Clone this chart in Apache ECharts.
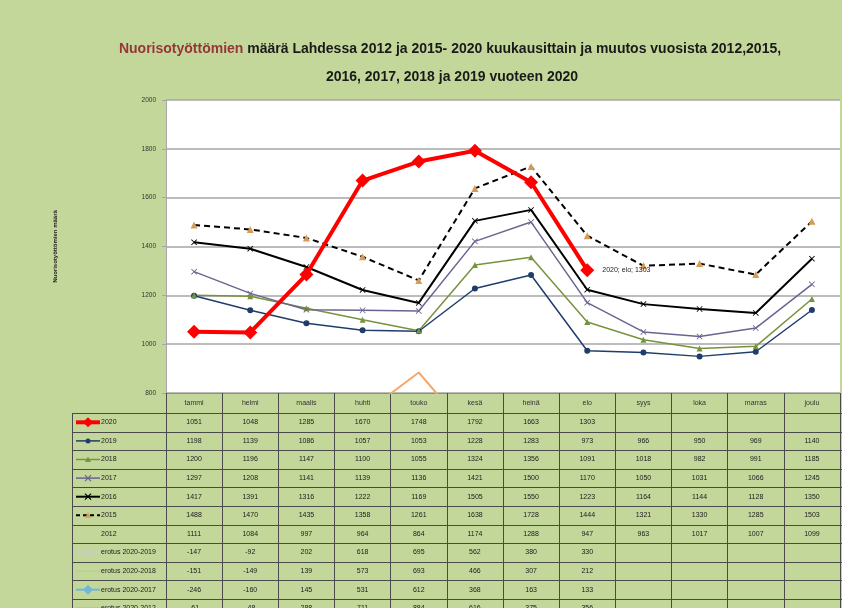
<!DOCTYPE html>
<html><head><meta charset="utf-8">
<script src="https://cdn.jsdelivr.net/npm/echarts@6/dist/echarts.min.js"></script>
<style>html,body{margin:0;padding:0;background:#c4d79b;} #c{width:842px;height:608px;}</style>
</head><body><div id="c"></div>
<script>
const months = ['tammi','helmi','maalis','huhti','touko','kesä','heinä','elo','syys','loka','marras','joulu'];
const v2020 = [1051,1048,1285,1670,1748,1792,1663,1303,null,null,null,null];
const v2019 = [1198,1139,1086,1057,1053,1228,1283,973,966,950,969,1140];
const v2018 = [1200,1196,1147,1100,1055,1324,1356,1091,1018,982,991,1185];
const v2017 = [1297,1208,1141,1139,1136,1421,1500,1170,1050,1031,1066,1245];
const v2016 = [1417,1391,1316,1222,1169,1505,1550,1223,1164,1144,1128,1350];
const v2015 = [1488,1470,1435,1358,1261,1638,1728,1444,1321,1330,1285,1503];
const v2012 = [1111,1084,997,964,864,1174,1288,947,963,1017,1007,1099];
const d2019 = [-147,-92,202,618,695,562,380,330,null,null,null,null];
const d2018 = [-151,-149,139,573,693,466,307,212,null,null,null,null];
const d2017 = [-246,-160,145,531,612,368,163,133,null,null,null,null];
const d2012 = [-61,-48,288,711,884,616,375,356,null,null,null,null];
const yTicks = {min:800, max:2000, interval:200};

const F = "'Liberation Sans Narrow','Liberation Sans',Arial,sans-serif";
const XPATH = 'path://M0,1L1,0L5,4L9,0L10,1L6,5L10,9L9,10L5,6L1,10L0,9L4,5Z';

const rows = [
  {label:'2020', data:v2020, color:'#ff0000', width:4, symbol:'diamond', size:14, mk:'diamond', plot:true},
  {label:'2019', data:v2019, color:'#1f3d6b', width:1.5, symbol:'circle', size:6, mk:'circle', plot:true},
  {label:'2018', data:v2018, color:'#77933c', width:1.5, symbol:'triangle', size:6, mk:'triangle', plot:true},
  {label:'2017', data:v2017, color:'#6b6490', width:1.5, symbol:XPATH, size:6, mk:'x', plot:true},
  {label:'2016', data:v2016, color:'#000000', width:2, symbol:XPATH, size:6, mk:'x', plot:true},
  {label:'2015', data:v2015, color:'#000000', width:2, dash:true, symbol:'triangle', size:7, mcolor:'#d99a55', mk:'triangle', plot:true},
  {label:'2012', data:v2012, plot:false},
  {label:'erotus 2020-2019', data:d2019, color:'#c9cfc0', width:1.5, symbol:'none', mk:'x', plot:true},
  {label:'erotus 2020-2018', data:d2018, color:'#b9d18f', width:1.5, symbol:'none', mk:'none', plot:true},
  {label:'erotus 2020-2017', data:d2017, color:'#6fb7d9', width:2, symbol:'none', mk:'diamond', plot:true},
  {label:'erotus 2020-2012', data:d2012, color:'#f4a86a', width:2, symbol:'none', mk:'none', plot:true}
];

const series = rows.filter(r=>r.plot).map(r=>({
  type:'line', name:r.label,
  data: r.label==='2020' ? r.data.map((v,i)=> i===7 ? {value:v, label:{show:true, position:'right', distance:8, formatter:'2020; elo; '+v, fontSize:7, fontFamily:F, color:'#222'}} : v) : r.data,
  lineStyle:{color:r.color, width:r.width, type:r.dash?[6,4]:'solid'},
  itemStyle:{color:r.mcolor||r.color},
  symbol:r.symbol, symbolSize:r.size, showSymbol:r.symbol!=='none',
  clip:true, z: r.label==='2020'?10:3, animation:false
}));

const option = {
  backgroundColor:'#c4d79b',
  animation:false,
  title:[
    {text:'{a|Nuorisotyöttömien} määrä Lahdessa 2012 ja 2015- 2020 kuukausittain ja muutos vuosista 2012,2015,',
     left:450, top:42, textAlign:'center', padding:0,
     textStyle:{fontFamily:F, fontWeight:'bold', fontSize:14, color:'#1a1a1a',
       rich:{a:{color:'#953735', fontFamily:F, fontWeight:'bold', fontSize:14}}}},
    {text:'2016, 2017, 2018 ja 2019 vuoteen 2020', left:452, top:70, textAlign:'center', padding:0,
     textStyle:{fontFamily:F, fontWeight:'bold', fontSize:14, color:'#1a1a1a'}}
  ],
  grid:{left:166, right:2, top:100, bottom:215, show:true, backgroundColor:'#ffffff', borderWidth:0},
  xAxis:{type:'category', data:months, boundaryGap:true,
    axisLine:{lineStyle:{color:'#8c8c8c', width:1}},
    axisTick:{show:true, interval:0, length:215, lineStyle:{color:'#4a4a4a', width:1}},
    axisLabel:{interval:0, fontSize:7, fontFamily:F, color:'#333', margin:7}},
  yAxis:{type:'value', min:yTicks.min, max:yTicks.max, interval:yTicks.interval,
    name:'Nuorisotyöttömien määrä', nameLocation:'middle', nameGap:108, nameRotate:90,
    nameTextStyle:{fontSize:6, fontWeight:'bold', fontFamily:F, color:'#222'},
    axisLine:{show:true, lineStyle:{color:'#a6a6a6'}},
    axisTick:{show:true, length:4, lineStyle:{color:'#a6a6a6'}},
    splitLine:{lineStyle:{color:'#a6a6a6', width:1.5}},
    axisLabel:{fontSize:6.5, fontFamily:F, color:'#333', margin:10, formatter:v=>String(v)}},
  series: series
};

const chart = echarts.init(document.getElementById('c'), null, {renderer:'canvas'});
chart.setOption(option);

function marker(g, kind, cx, cy, color){
  if(kind==='diamond'){ const s=5; g.push({type:'polygon', shape:{points:[[cx,cy-s],[cx+s,cy],[cx,cy+s],[cx-s,cy]]}, style:{fill:color}, z:20}); }
  else if(kind==='circle'){ g.push({type:'circle', shape:{cx:cx, cy:cy, r:2.5}, style:{fill:color}, z:20}); }
  else if(kind==='triangle'){ g.push({type:'polygon', shape:{points:[[cx,cy-3],[cx+3,cy+2.5],[cx-3,cy+2.5]]}, style:{fill:color}, z:20}); }
  else if(kind==='x'){ g.push({type:'line', shape:{x1:cx-3,y1:cy-3,x2:cx+3,y2:cy+3}, style:{stroke:color, lineWidth:1.2}, z:20});
                       g.push({type:'line', shape:{x1:cx-3,y1:cy+3,x2:cx+3,y2:cy-3}, style:{stroke:color, lineWidth:1.2}, z:20}); }
}

function buildTable(){
  const g = [];
  const axisY = chart.convertToPixel({yAxisIndex:0}, yTicks.min);
  const headerH = 20, rowH = 18.6, left = 72, W = 842, H = 608;
  const top0 = axisY + headerH;
  for(let r=0; r<=rows.length; r++){
    const y = Math.round(top0 + r*rowH) + 0.5;
    if(y > H) break;
    g.push({type:'line', shape:{x1:left, y1:y, x2:W, y2:y}, style:{stroke:'#4a4a4a', lineWidth:1}, silent:true, z:5});
  }
  g.push({type:'line', shape:{x1:left+0.5, y1:top0, x2:left+0.5, y2:H}, style:{stroke:'#4a4a4a', lineWidth:1}, silent:true, z:5});
  rows.forEach((row, r)=>{
    const cy = top0 + r*rowH + rowH/2;
    row.data.forEach((v,i)=>{
      if(v==null) return;
      const cx = chart.convertToPixel({xAxisIndex:0}, i);
      g.push({type:'text', x:cx, y:cy, style:{text:String(v), align:'center', verticalAlign:'middle', font:'7px '+F, fill:'#1a1a1a'}, silent:true, z:6});
    });
    g.push({type:'text', x:101, y:cy, style:{text:row.label, align:'left', verticalAlign:'middle', font:'7px '+F, fill:'#1a1a1a'}, silent:true, z:6});
    if(row.plot){
      g.push({type:'line', shape:{x1:76, y1:cy, x2:100, y2:cy}, style:{stroke:row.color, lineWidth:Math.max(1.5,row.width), lineDash: row.dash?[4,3]:null}, z:19});
      if(row.mk!=='none') marker(g, row.mk, 88, cy, row.mcolor||row.color);
    }
  });
  chart.setOption({graphic:g});
}
buildTable();
</script></body></html>
